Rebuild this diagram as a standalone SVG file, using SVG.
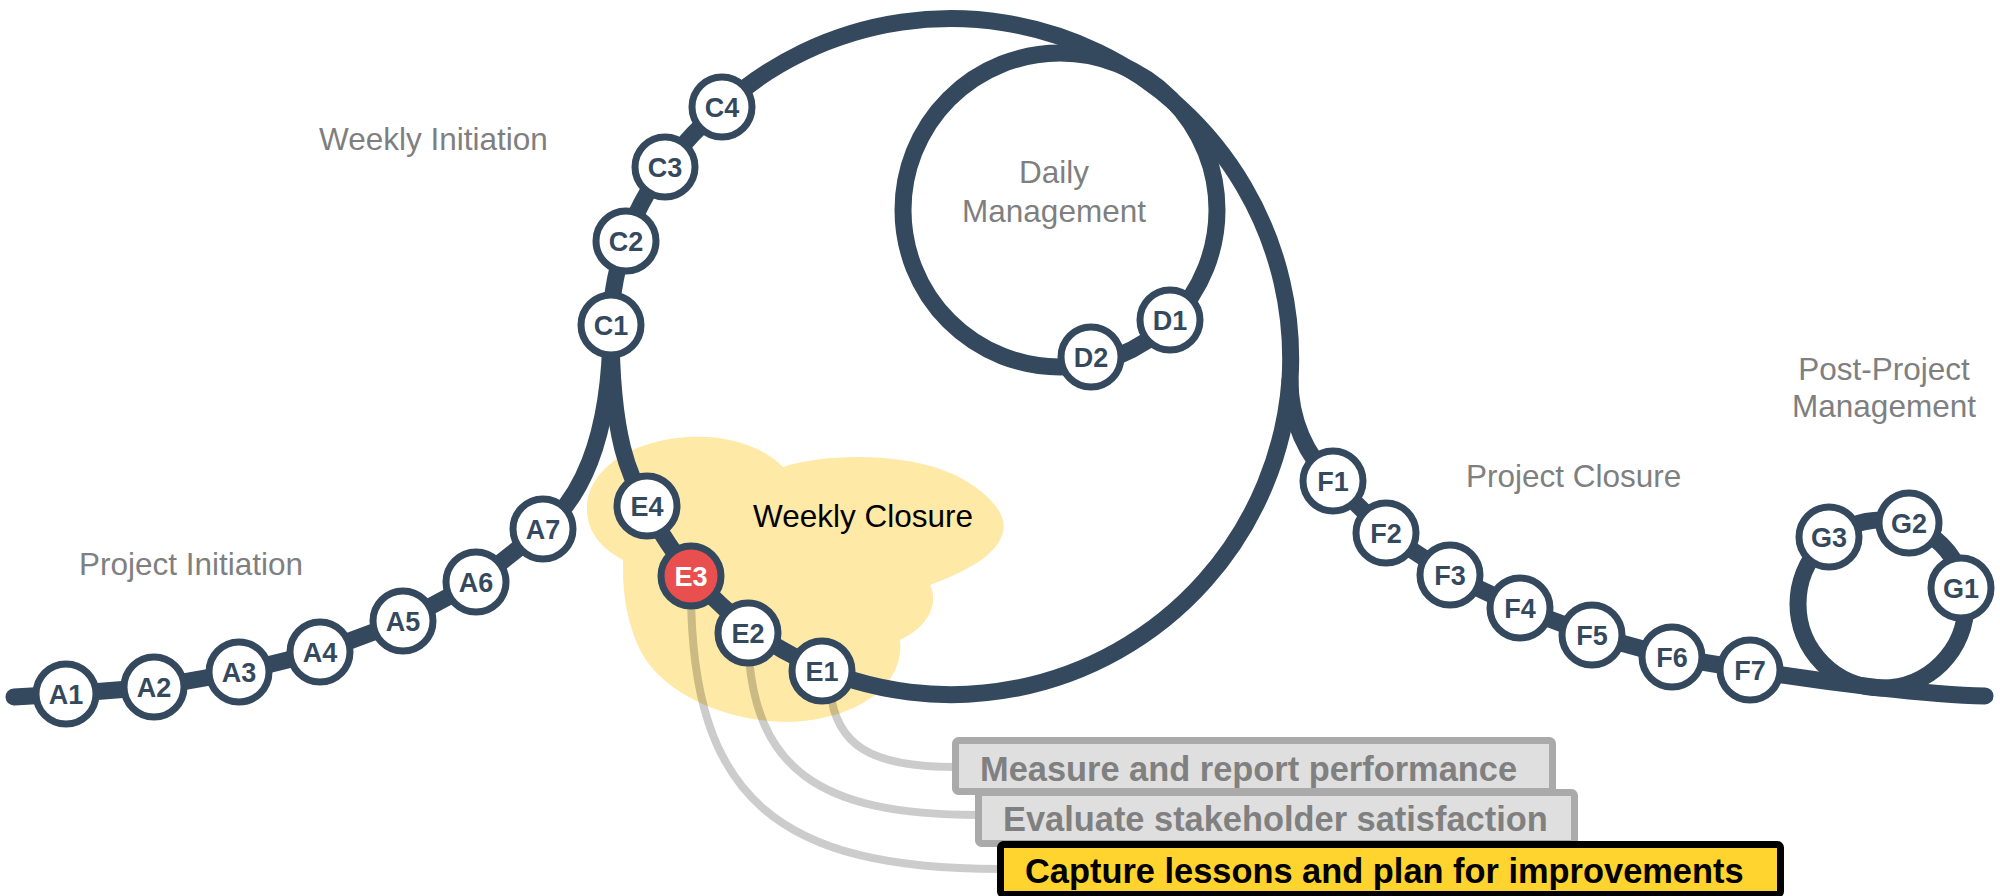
<svg xmlns="http://www.w3.org/2000/svg" width="2000" height="896" viewBox="0 0 2000 896">
<style>
.line{fill:none;stroke:#34495e;stroke-width:17;stroke-linecap:round;stroke-linejoin:round}
.conn{fill:none;stroke:#000;stroke-opacity:0.2;stroke-width:8}
.node circle{fill:#fff;stroke:#34495e;stroke-width:7}
.node text{font-family:"Liberation Sans",Arial,sans-serif;font-weight:bold;font-size:27px;fill:#34495e;text-anchor:middle}
.node.hot circle{fill:#ea4f4f}
.node.hot text{fill:#fff}
.lbl{font-family:"Liberation Sans",Arial,sans-serif;font-size:31.5px;fill:#7f7f7f}
.box rect{stroke-width:7}
.box text{font-family:"Liberation Sans",Arial,sans-serif;font-weight:bold;font-size:34.4px}
.grey rect{fill:#dfdfdf;stroke:#aaaaaa}
.grey text{fill:#808080}
.key rect{fill:#ffd42e;stroke:#000}
.key text{fill:#000}
</style>
<rect width="2000" height="896" fill="#fff"/>
<g id="cloud">
<path d="M623,560 C600,548 586,530 587,507 C588,470 630,440 690,437 C730,435 765,448 783,467 C820,455 900,450 955,475 C985,490 1008,512 1003,532 C998,555 965,572 930,585 C938,600 932,625 900,640 C905,690 850,720 790,722 C720,722 660,690 640,650 C628,625 622,595 623,560 Z" fill="#ffe9a6"/>
<text class="lbl" x="753" y="527" style="fill:#000">Weekly Closure</text>
</g>
<g id="connectors">
<path class="conn" d="M830,690 C836,745 870,767 955,767"/>
<path class="conn" d="M748,640 C752,770 820,815 978,815"/>
<path class="conn" d="M691,590 C691,800 780,869 1000,869"/>
<path class="line" d="M14,697 L66,694 L154,687 L239,672 L320,652 L403,621 L476,582 L543,529 C577,502 611,445 611,325 C611,290 618,265 626,241 C634,215 648,189 665,167 C682,145 700,125 722,107 A340,340 0 0 1 1290,380 C1290,420 1306,456 1333,481 L1386,533 L1450,575 L1520,608 L1592,635 L1672,657 L1750,670 C1830,683 1930,695 1985,696"/>
<path class="line" d="M611,325 C611,440 630,478 647,507 A340,340 0 0 0 1290,380"/>
<circle class="line" cx="1060" cy="210" r="157"/>
<circle class="line" cx="1882" cy="604" r="84"/>
</g>
<g id="A1" class="node"><circle cx="66" cy="694" r="30"/><text x="66" y="703.5">A1</text></g>
<g id="A2" class="node"><circle cx="154" cy="687" r="30"/><text x="154" y="696.5">A2</text></g>
<g id="A3" class="node"><circle cx="239" cy="672" r="30"/><text x="239" y="681.5">A3</text></g>
<g id="A4" class="node"><circle cx="320" cy="652" r="30"/><text x="320" y="661.5">A4</text></g>
<g id="A5" class="node"><circle cx="403" cy="621" r="30"/><text x="403" y="630.5">A5</text></g>
<g id="A6" class="node"><circle cx="476" cy="582" r="30"/><text x="476" y="591.5">A6</text></g>
<g id="A7" class="node"><circle cx="543" cy="529" r="30"/><text x="543" y="538.5">A7</text></g>
<g id="C1" class="node"><circle cx="611" cy="325" r="30"/><text x="611" y="334.5">C1</text></g>
<g id="C2" class="node"><circle cx="626" cy="241" r="30"/><text x="626" y="250.5">C2</text></g>
<g id="C3" class="node"><circle cx="665" cy="167" r="30"/><text x="665" y="176.5">C3</text></g>
<g id="C4" class="node"><circle cx="722" cy="107" r="30"/><text x="722" y="116.5">C4</text></g>
<g id="D1" class="node"><circle cx="1170" cy="320" r="30"/><text x="1170" y="329.5">D1</text></g>
<g id="D2" class="node"><circle cx="1091" cy="357" r="30"/><text x="1091" y="366.5">D2</text></g>
<g id="E4" class="node"><circle cx="647" cy="506" r="30"/><text x="647" y="515.5">E4</text></g>
<g id="E3" class="node hot"><circle cx="691" cy="576" r="30"/><text x="691" y="585.5">E3</text></g>
<g id="E2" class="node"><circle cx="748" cy="633" r="30"/><text x="748" y="642.5">E2</text></g>
<g id="E1" class="node"><circle cx="822" cy="671" r="30"/><text x="822" y="680.5">E1</text></g>
<g id="F1" class="node"><circle cx="1333" cy="481" r="30"/><text x="1333" y="490.5">F1</text></g>
<g id="F2" class="node"><circle cx="1386" cy="533" r="30"/><text x="1386" y="542.5">F2</text></g>
<g id="F3" class="node"><circle cx="1450" cy="575" r="30"/><text x="1450" y="584.5">F3</text></g>
<g id="F4" class="node"><circle cx="1520" cy="608" r="30"/><text x="1520" y="617.5">F4</text></g>
<g id="F5" class="node"><circle cx="1592" cy="635" r="30"/><text x="1592" y="644.5">F5</text></g>
<g id="F6" class="node"><circle cx="1672" cy="657" r="30"/><text x="1672" y="666.5">F6</text></g>
<g id="F7" class="node"><circle cx="1750" cy="670" r="30"/><text x="1750" y="679.5">F7</text></g>
<g id="G1" class="node"><circle cx="1961" cy="588" r="30"/><text x="1961" y="597.5">G1</text></g>
<g id="G2" class="node"><circle cx="1909" cy="523" r="30"/><text x="1909" y="532.5">G2</text></g>
<g id="G3" class="node"><circle cx="1829" cy="537" r="30"/><text x="1829" y="546.5">G3</text></g>
<g id="labels">
<text class="lbl" x="79" y="575">Project Initiation</text>
<text class="lbl" x="319" y="150">Weekly Initiation</text>
<text class="lbl" x="1054" y="183" text-anchor="middle">Daily</text>
<text class="lbl" x="1054" y="222" text-anchor="middle">Management</text>
<text class="lbl" x="1466" y="487">Project Closure</text>
<text class="lbl" x="1884" y="380" text-anchor="middle">Post-Project</text>
<text class="lbl" x="1884" y="417" text-anchor="middle">Management</text>
</g>
<g id="box1" class="box grey"><rect x="955.5" y="740.5" width="597" height="51" rx="3"/><text x="980" y="781">Measure and report performance</text></g>
<g id="box2" class="box grey"><rect x="978.5" y="792.5" width="596" height="51" rx="3"/><text x="1003" y="831">Evaluate stakeholder satisfaction</text></g>
<g id="box3" class="box key"><rect x="1000.5" y="844.5" width="780" height="50" rx="3"/><text x="1025" y="883">Capture lessons and plan for improvements</text></g>
</svg>
